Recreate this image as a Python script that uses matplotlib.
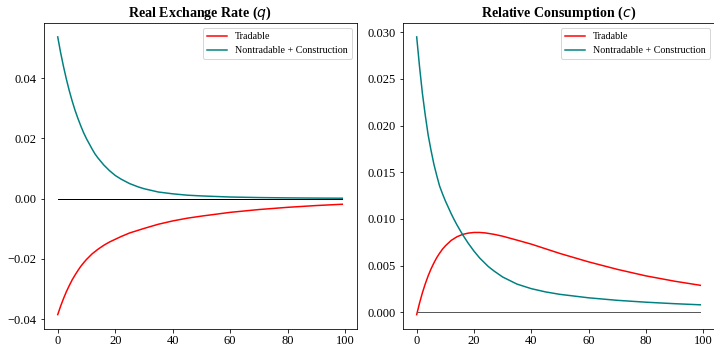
import matplotlib
matplotlib.use('Agg')
from matplotlib import pyplot as plt

plt.rcParams['font.family'] = ['Liberation Serif', 'DejaVu Serif']

# periods and responses
t_q_trad = [0, 1, 2, 3, 4, 5, 6, 7, 8, 9, 10, 12, 14, 16, 18, 20, 22, 25, 28,
            30, 35, 40, 45, 50, 60, 70, 80, 90, 99]
q_trad = [-0.0385, -0.0357, -0.0332, -0.0309, -0.0289, -0.0270, -0.0254, -0.0239,
          -0.0225, -0.0213, -0.0202, -0.0183, -0.0168, -0.0155, -0.0144, -0.0135,
          -0.0126, -0.0114, -0.0105, -0.0099, -0.0085, -0.0074, -0.0065, -0.0058,
          -0.00455, -0.00362, -0.00288, -0.00229, -0.00186]

t_q_nontrad = [0, 1, 2, 3, 4, 5, 6, 7, 8, 9, 10, 12, 13, 14, 16, 18, 20, 22, 25,
               28, 30, 35, 40, 45, 50, 60, 70, 80, 90, 99]
q_nontrad = [0.0537, 0.0485, 0.0439, 0.0397, 0.0359, 0.0325, 0.0294, 0.0267,
             0.0242, 0.0219, 0.0199, 0.0164, 0.0148, 0.0135, 0.0112, 0.0093,
             0.0077, 0.0065, 0.0050, 0.0039, 0.0033, 0.0022, 0.0016, 0.00115,
             0.0009, 0.00054, 0.00036, 0.00025, 0.00018, 0.00014]

t_c_trad = [0, 1, 2, 3, 4, 5, 6, 7, 8, 9, 10, 12, 14, 16, 18, 20, 22, 24, 27,
            30, 35, 40, 45, 50, 60, 70, 80, 90, 99]
c_trad = [-0.00025, 0.00099, 0.00209, 0.00305, 0.0039, 0.00464, 0.00528, 0.00585,
          0.00633, 0.00676, 0.00711, 0.00769, 0.00808, 0.00834, 0.00848, 0.00855,
          0.00855, 0.0085, 0.00835, 0.00815, 0.00773, 0.0073, 0.0068, 0.0063,
          0.0054, 0.0046, 0.0039, 0.00333, 0.00289]

t_c_nontrad = [0, 1, 2, 3, 4, 5, 6, 7, 8, 9, 10, 12, 13, 14, 16, 18, 20, 22, 25,
               27, 30, 35, 40, 45, 50, 60, 70, 80, 90, 99]
c_nontrad = [0.0295, 0.0263, 0.02344, 0.0211, 0.0190, 0.01736, 0.01587, 0.01465,
             0.01352, 0.0127, 0.01194, 0.01059, 0.00997, 0.00939, 0.00833, 0.00739,
             0.00655, 0.00581, 0.0049, 0.00442, 0.00378, 0.00302, 0.00253, 0.00218,
             0.00192, 0.00155, 0.00128, 0.00108, 0.00092, 0.0008]

zero_t = [0, 99]
zero_v = [0, 0]

fig = plt.figure(figsize=(714 / 72, 345 / 72), dpi=72)
ax1 = fig.add_axes([43.5 / 714, 16.5 / 345, 313 / 714, 305.5 / 345])
ax2 = fig.add_axes([402.5 / 714, 16.5 / 345, 312 / 714, 305.5 / 345])

# left panel: real exchange rate
ax1.plot(t_q_trad, q_trad, color='red', lw=1.5, label='Tradable')
ax1.plot(t_q_nontrad, q_nontrad, color='teal', lw=1.5, label='Nontradable + Construction')
ax1.plot(zero_t, zero_v, color='black', lw=1)
ax1.set_title('Real Exchange Rate ($q$)', fontsize=14, fontweight='bold')
ax1.legend(loc='upper right', fontsize=10)

# right panel: relative consumption
ax2.plot(t_c_trad, c_trad, color='red', lw=1.5, label='Tradable')
ax2.plot(t_c_nontrad, c_nontrad, color='teal', lw=1.5, label='Nontradable + Construction')
ax2.plot(zero_t, zero_v, color='0.35', lw=1)
ax2.set_title('Relative Consumption ($c$)', fontsize=14, fontweight='bold')
ax2.legend(loc='upper right', fontsize=10)

for ax in (ax1, ax2):
    ax.tick_params(labelsize=12.5)

ax1.set_yticks([-0.04, -0.02, 0.00, 0.02, 0.04])
ax2.set_yticks([0.0, 0.005, 0.010, 0.015, 0.020, 0.025, 0.030])

fig.savefig('out.png', dpi=72)
